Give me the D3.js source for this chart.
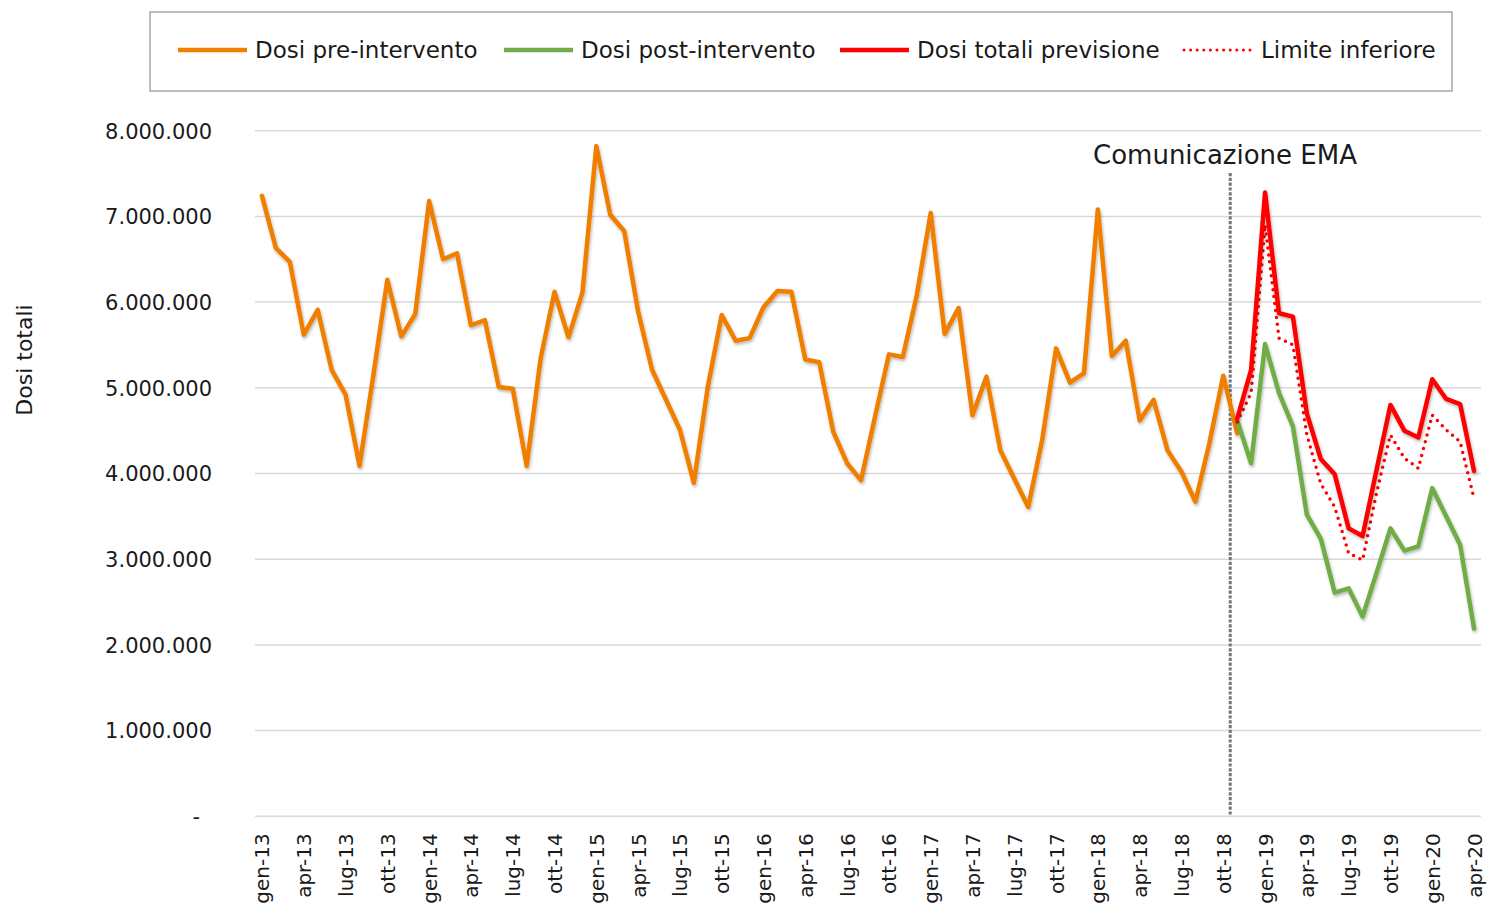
<!DOCTYPE html>
<html>
<head>
<meta charset="utf-8">
<script src="https://cdn.jsdelivr.net/npm/d3@7"></script>
<style>
  html, body { margin: 0; padding: 0; background: #fff; }
  svg { display: block; font-family: "DejaVu Sans", sans-serif; }
</style>
</head>
<body>
<svg id="chart" width="1488" height="908"></svg>
<script>
// ---- Data (values in millions of doses) ----
const years = [13, 14, 15, 16, 17, 18, 19, 20];
const monthNames = ["gen","feb","mar","apr","mag","giu","lug","ago","set","ott","nov","dic"];
const firstMonth = 0;   // gen-13
const nMonths = 88;     // gen-13 .. apr-20

const preIntervento = [7.24,6.63,6.47,5.62,5.91,5.21,4.92,4.09,5.15,6.26,
  5.60,5.86,7.18,6.50,6.57,5.73,5.79,5.01,4.99,4.09,
  5.34,6.12,5.59,6.11,7.82,7.02,6.83,5.89,5.21,4.86,
  4.51,3.89,5.01,5.85,5.55,5.58,5.94,6.13,6.12,5.33,
  5.30,4.49,4.12,3.92,4.66,5.39,5.36,6.08,7.04,5.63,
  5.93,4.68,5.13,4.27,3.94,3.61,4.39,5.46,5.06,5.17,
  7.08,5.37,5.55,4.62,4.86,4.27,4.02,3.67,4.35,5.14,
  4.47];
const postStart = 70;   // nov-18
const postIntervento = [4.62,4.12,5.51,4.94,4.55,3.52,3.24,2.61,2.66,2.33,2.84,3.36,3.10,3.15,3.83,3.50,3.17,2.19];
const totaliPrevisione = [4.64,5.21,7.28,5.87,5.83,4.70,4.17,3.99,3.36,3.27,4.04,4.80,4.50,4.42,5.10,4.87,4.81,4.03];
const limiteInferiore = [4.60,4.94,6.90,5.58,5.50,4.45,3.88,3.61,3.07,2.99,3.77,4.45,4.18,4.06,4.68,4.51,4.37,3.71];
const yTicks = [0,1e6,2e6,3e6,4e6,5e6,6e6,7e6,8e6];
const eventIndex = 69.5; // Comunicazione EMA, between ott-18 and nov-18
const eventLabel = "Comunicazione EMA";
const legendLabels = ["Dosi pre-intervento","Dosi post-intervento","Dosi totali previsione","Limite inferiore"];

// ---- Categories ----
const categories = d3.range(nMonths).map(i => {
  const m = (firstMonth + i) % 12;
  const yy = years[Math.floor((firstMonth + i) / 12)];
  return monthNames[m] + "-" + yy;
});

const svg = d3.select("#chart");
const plotL = 255, plotR = 1481, plotT = 130.7, plotB = 816.3;

const x = d3.scalePoint().domain(d3.range(nMonths)).range([plotL, plotR]).padding(0.5);
const xPos = v => plotL + (v + 0.5) * x.step();
const y = d3.scaleLinear().domain([0, 8e6]).range([plotB, plotT]);

const it = d3.formatLocale({decimal: ",", thousands: ".", grouping: [3], currency: ["€", ""]});
const fmt = it.format(",.0f");

// shadow filter
const defs = svg.append("defs");
const f = defs.append("filter").attr("id","sh").attr("x","-10%").attr("y","-10%").attr("width","120%").attr("height","120%");
f.append("feDropShadow").attr("dx",1).attr("dy",2).attr("stdDeviation",1.6).attr("flood-color","#000").attr("flood-opacity",0.28);

// Gridlines
svg.append("g").selectAll("line").data(yTicks).join("line")
  .attr("x1", plotL).attr("x2", plotR)
  .attr("y1", d => y(d)).attr("y2", d => y(d))
  .attr("stroke", "#d9d9d9").attr("stroke-width", 1.5);

// Y axis labels
const yAxis = d3.axisLeft(y).tickValues(yTicks).tickSize(0).tickPadding(0)
  .tickFormat(d => d === 0 ? "-" : fmt(d));
const gy = svg.append("g").attr("transform", "translate(212,0)").call(yAxis);
gy.select(".domain").remove();
gy.selectAll("text").attr("font-size", 21).attr("font-family", "DejaVu Sans").attr("fill", "#1a1a1a")
  .attr("dy", "0.35em")
  .attr("dx", d => d === 0 ? -12 : 0);

// X axis labels
const xAxis = d3.axisBottom(x).tickValues(d3.range(0, nMonths, 3)).tickSize(0)
  .tickFormat(i => categories[i]);
const gx = svg.append("g").attr("transform", `translate(0,${plotB})`).call(xAxis);
gx.select(".domain").remove();
gx.selectAll("text")
  .attr("font-size", 20).attr("font-family", "DejaVu Sans").attr("fill", "#1a1a1a")
  .attr("text-anchor", "end")
  .attr("transform", "translate(0,17) rotate(-90)")
  .attr("x", 0).attr("y", 0).attr("dy", "0.35em");

// Y axis title
svg.append("text").attr("transform", "translate(24,360) rotate(-90)")
  .attr("text-anchor", "middle").attr("dy", "0.35em")
  .attr("font-size", 22).attr("fill", "#1a1a1a").text("Dosi totali");

// Event line
svg.append("line")
  .attr("x1", xPos(eventIndex)).attr("x2", xPos(eventIndex))
  .attr("y1", 173).attr("y2", plotB)
  .attr("stroke", "#767676").attr("stroke-width", 3).attr("stroke-dasharray", "3.2 1.6");
svg.append("text").attr("x", 1225).attr("y", 155).attr("dy", "0.35em")
  .attr("text-anchor", "middle").attr("font-size", 26).attr("fill", "#1a1a1a").text(eventLabel);

// Lines
const line = d3.line().x(d => x(d.i)).y(d => y(d.v * 1e6));
const series = [
  {data: preIntervento.map((v, k) => ({i: k, v})), color: "#F07F00", w: 4.5, dash: null},
  {data: postIntervento.map((v, k) => ({i: postStart + k, v})), color: "#70AD47", w: 4.5, dash: null},
  {data: limiteInferiore.map((v, k) => ({i: postStart + k, v})), color: "#FF0000", w: 3.5, dash: "0 7"},
  {data: totaliPrevisione.map((v, k) => ({i: postStart + k, v})), color: "#FF0000", w: 4.5, dash: null}
];
svg.append("g").selectAll("path").data(series).join("path")
  .attr("d", s => line(s.data))
  .attr("fill", "none")
  .attr("stroke", s => s.color)
  .attr("stroke-width", s => s.w)
  .attr("stroke-linejoin", "round")
  .attr("stroke-linecap", "round")
  .attr("stroke-dasharray", s => s.dash)
  .attr("filter", s => s.dash ? null : "url(#sh)");

// Legend
svg.append("rect").attr("x", 150).attr("y", 12).attr("width", 1302).attr("height", 79)
  .attr("fill", "#fff").attr("stroke", "#a6a6a6").attr("stroke-width", 1.5);
const legendItems = [
  {label: legendLabels[0], color: "#F07F00", dash: null, x: 178},
  {label: legendLabels[1], color: "#70AD47", dash: null, x: 504},
  {label: legendLabels[2], color: "#FF0000", dash: null, x: 840},
  {label: legendLabels[3], color: "#FF0000", dash: "0 6.6", x: 1184}
];
const lg = svg.append("g").selectAll("g").data(legendItems).join("g")
  .attr("transform", d => `translate(${d.x},50)`);
lg.append("line").attr("x1", 0).attr("x2", 69).attr("y1", 0).attr("y2", 0)
  .attr("stroke", d => d.color).attr("stroke-width", d => d.dash ? 3 : 4.5)
  .attr("stroke-linecap", d => d.dash ? "round" : "butt")
  .attr("stroke-dasharray", d => d.dash);
lg.append("text").attr("x", 77).attr("dy", "0.35em").attr("font-size", 23)
  .attr("fill", "#1a1a1a").text(d => d.label);
</script>
</body>
</html>
